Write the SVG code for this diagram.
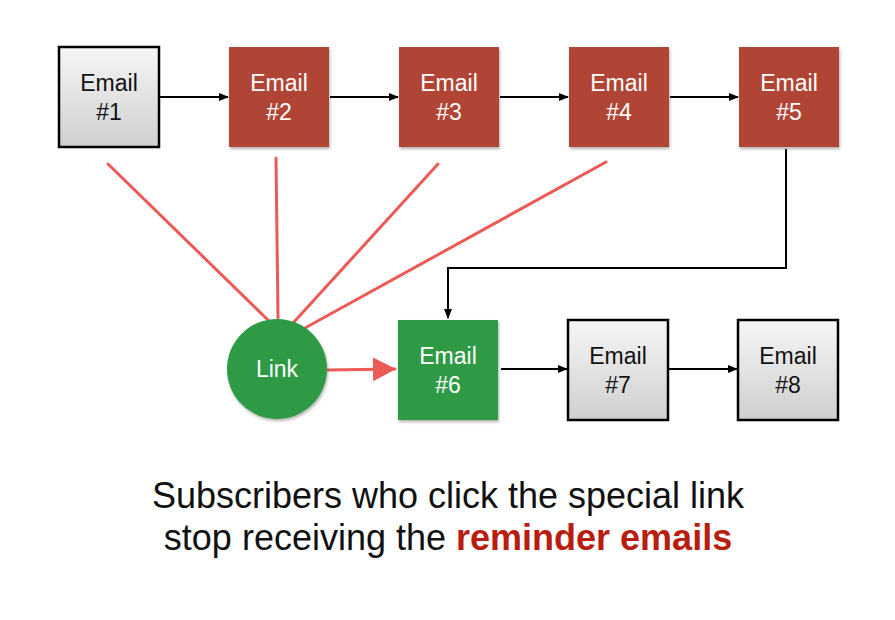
<svg xmlns="http://www.w3.org/2000/svg" width="895" height="620" viewBox="0 0 895 620">
<defs>
<linearGradient id="gray" x1="0" y1="0" x2="0" y2="1">
<stop offset="0" stop-color="#f6f6f6"/>
<stop offset="1" stop-color="#cfcfcf"/>
</linearGradient>
<filter id="sh" x="-10%" y="-10%" width="130%" height="130%">
<feDropShadow dx="1" dy="2" stdDeviation="1.5" flood-color="#000" flood-opacity="0.3"/>
</filter>
<marker id="ah" markerWidth="10" markerHeight="10" refX="9" refY="5" orient="auto" markerUnits="userSpaceOnUse">
<path d="M0,1 L10,5 L0,9 Z" fill="#000"/>
</marker>
<marker id="rh" markerWidth="24" markerHeight="26" refX="22" refY="13" orient="auto" markerUnits="userSpaceOnUse">
<path d="M0,1 L23,13 L0,25 Z" fill="#ec5a55"/>
</marker>
</defs>
<style>
.lt{font-family:"Liberation Sans",Arial,sans-serif;font-size:23px;text-anchor:middle}
.w{fill:#fff}
.k{fill:#111}
.gb{fill:url(#gray);stroke:#000;stroke-width:2.5}
.rb{fill:#b04534;filter:url(#sh)}
.grn{fill:#2f9a45;filter:url(#sh)}
.c{stroke:#000;stroke-width:2;fill:none}
.r{stroke:#ec5a55;stroke-width:3;fill:none;stroke-linecap:round}
.cap{font-family:"Liberation Sans",Arial,sans-serif;font-size:36px;text-anchor:middle;fill:#111}
</style>
<rect width="895" height="620" fill="#fff"/>
<g id="connectors">
<line class="c" x1="160" y1="97" x2="228" y2="97" marker-end="url(#ah)"/>
<line class="c" x1="330" y1="97" x2="398" y2="97" marker-end="url(#ah)"/>
<line class="c" x1="500" y1="97" x2="568" y2="97" marker-end="url(#ah)"/>
<line class="c" x1="670" y1="97" x2="738" y2="97" marker-end="url(#ah)"/>
<polyline class="c" points="786,149 786,268 448,268 448,318" marker-end="url(#ah)"/>
<line class="c" x1="501" y1="369" x2="567" y2="369" marker-end="url(#ah)"/>
<line class="c" x1="669" y1="369" x2="737" y2="369" marker-end="url(#ah)"/>
<line class="r" x1="108" y1="164" x2="268" y2="320"/>
<line class="r" x1="276" y1="158" x2="278" y2="318"/>
<line class="r" x1="438" y1="164" x2="294" y2="322"/>
<line class="r" x1="606" y1="162" x2="305" y2="328"/>
<line class="r" x1="328" y1="370" x2="395" y2="369" stroke-width="4" marker-end="url(#rh)"/>
</g>
<g id="email1"><rect class="gb" x="59" y="47" width="100" height="100"/><text class="lt k" x="109" y="91">Email</text><text class="lt k" x="109" y="120">#1</text></g>
<g id="email2"><rect class="rb" x="229" y="47" width="100" height="100"/><text class="lt w" x="279" y="91">Email</text><text class="lt w" x="279" y="120">#2</text></g>
<g id="email3"><rect class="rb" x="399" y="47" width="100" height="100"/><text class="lt w" x="449" y="91">Email</text><text class="lt w" x="449" y="120">#3</text></g>
<g id="email4"><rect class="rb" x="569" y="47" width="100" height="100"/><text class="lt w" x="619" y="91">Email</text><text class="lt w" x="619" y="120">#4</text></g>
<g id="email5"><rect class="rb" x="739" y="47" width="100" height="100"/><text class="lt w" x="789" y="91">Email</text><text class="lt w" x="789" y="120">#5</text></g>
<g id="link"><circle class="grn" cx="277" cy="369" r="50"/><text class="lt w" x="277" y="377">Link</text></g>
<g id="email6"><rect class="grn" x="398" y="320" width="100" height="100"/><text class="lt w" x="448" y="364">Email</text><text class="lt w" x="448" y="393">#6</text></g>
<g id="email7"><rect class="gb" x="568" y="320" width="100" height="100"/><text class="lt k" x="618" y="364">Email</text><text class="lt k" x="618" y="393">#7</text></g>
<g id="email8"><rect class="gb" x="738" y="320" width="100" height="100"/><text class="lt k" x="788" y="364">Email</text><text class="lt k" x="788" y="393">#8</text></g>
<g id="caption">
<text class="cap" x="448" y="508">Subscribers who click the special link</text>
<text class="cap" x="448" y="550">stop receiving the <tspan font-weight="bold" fill="#b81d0f">reminder emails</tspan></text>
</g>
</svg>
